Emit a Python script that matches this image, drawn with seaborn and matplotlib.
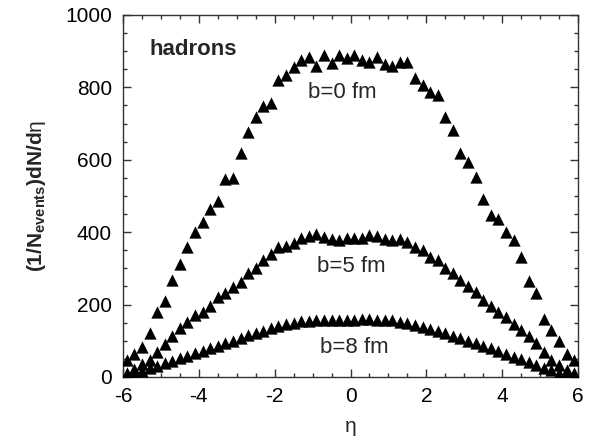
import numpy as np
import matplotlib
matplotlib.use('Agg')
import matplotlib.pyplot as plt
import seaborn as sns
from matplotlib.ticker import MultipleLocator

# pseudorapidity bin centres
eta = [-5.9, -5.7, -5.5, -5.3, -5.1, -4.9, -4.7, -4.5, -4.3, -4.1,
       -3.9, -3.7, -3.5, -3.3, -3.1, -2.9, -2.7, -2.5, -2.3, -2.1,
       -1.9, -1.7, -1.5, -1.3, -1.1, -0.9, -0.7, -0.5, -0.3, -0.1,
       0.1, 0.3, 0.5, 0.7, 0.9, 1.1, 1.3, 1.5, 1.7, 1.9,
       2.1, 2.3, 2.5, 2.7, 2.9, 3.1, 3.3, 3.5, 3.7, 3.9,
       4.1, 4.3, 4.5, 4.7, 4.9, 5.1, 5.3, 5.5, 5.7, 5.9]

# dN/deta for b = 0 fm
b0 = [47, 64, 84, 122, 180, 211, 268, 312, 360, 401,
      427, 465, 487, 547, 550, 618, 676, 719, 749, 758,
      819, 833, 855, 877, 883, 859, 889, 868, 889, 882,
      889, 877, 871, 883, 864, 859, 871, 869, 825, 807,
      787, 780, 717, 683, 618, 595, 552, 492, 448, 436,
      401, 378, 332, 266, 233, 159, 130, 99, 64, 47]

# dN/deta for b = 5 fm
b5 = [10, 22, 35, 48, 70, 91, 112, 135, 153, 171,
      179, 195, 221, 233, 248, 263, 288, 300, 323, 340,
      358, 362, 371, 383, 389, 394, 386, 381, 378, 383,
      385, 383, 392, 389, 380, 378, 380, 374, 358, 351,
      331, 323, 300, 286, 268, 251, 234, 214, 195, 180,
      165, 147, 130, 113, 94, 70, 48, 33, 19, 11]

# dN/deta for b = 8 fm
b8 = [6, 12, 17, 24, 30, 38, 45, 52, 58, 65,
      73, 79, 86, 93, 99, 107, 116, 121, 128, 134,
      141, 146, 150, 154, 156, 157, 157, 157, 157, 157,
      157, 159, 159, 157, 157, 157, 153, 148, 144, 139,
      133, 128, 121, 113, 107, 100, 93, 86, 79, 72,
      64, 56, 49, 41, 33, 26, 19, 12, 6, 2]

sns.set_style('ticks')
plt.rcParams['font.family'] = ['Liberation Sans', 'DejaVu Sans']
plt.rcParams['mathtext.fontset'] = 'custom'
plt.rcParams['mathtext.rm'] = 'Liberation Sans'
plt.rcParams['mathtext.bf'] = 'Liberation Sans:bold'
plt.rcParams['mathtext.it'] = 'Liberation Sans:italic'
plt.rcParams['axes.unicode_minus'] = False

fig = plt.figure(figsize=(5.96, 4.43), dpi=100)
ax = fig.add_axes([0.2064, 0.149, 0.7634, 0.8172])

for series in (b0, b5, b8):
    sns.scatterplot(x=eta, y=series, marker='^', color='black', s=78,
                    linewidth=0, ax=ax, zorder=3)

ax.set_xlim(-6, 6)
ax.set_ylim(0, 1000)
ax.xaxis.set_major_locator(MultipleLocator(2))
ax.xaxis.set_minor_locator(MultipleLocator(0.5))
ax.yaxis.set_major_locator(MultipleLocator(200))
ax.yaxis.set_minor_locator(MultipleLocator(50))
ax.tick_params(which='both', direction='in', top=True, right=True,
               colors='#333333', labelcolor='black', labelsize=15)
ax.tick_params(which='major', length=6, width=1)
ax.tick_params(which='minor', length=3, width=1)
ax.tick_params(axis='x', which='major', pad=7)
ax.tick_params(axis='y', which='major', pad=8)
for sp in ax.spines.values():
    sp.set_color('#333333')
    sp.set_linewidth(1)

ax.set_xlabel('η', fontsize=15)
ax.set_ylabel(r'$\mathbf{(1/N_{events})dN/d}\mathrm{η}$', fontsize=15)
ax.xaxis.set_label_coords(0.5, -0.11)
ax.yaxis.set_label_coords(-0.165, 0.5)

ax.text(-5.29, 906, 'hadrons', fontsize=16, fontweight='bold', va='center')
ax.text(-1.12, 785, 'b=0 fm', fontsize=16, va='center')
ax.text(-0.89, 305, 'b=5 fm', fontsize=16, va='center')
ax.text(-0.80, 81, 'b=8 fm', fontsize=16, va='center')

fig.savefig('out.png', dpi=100)
